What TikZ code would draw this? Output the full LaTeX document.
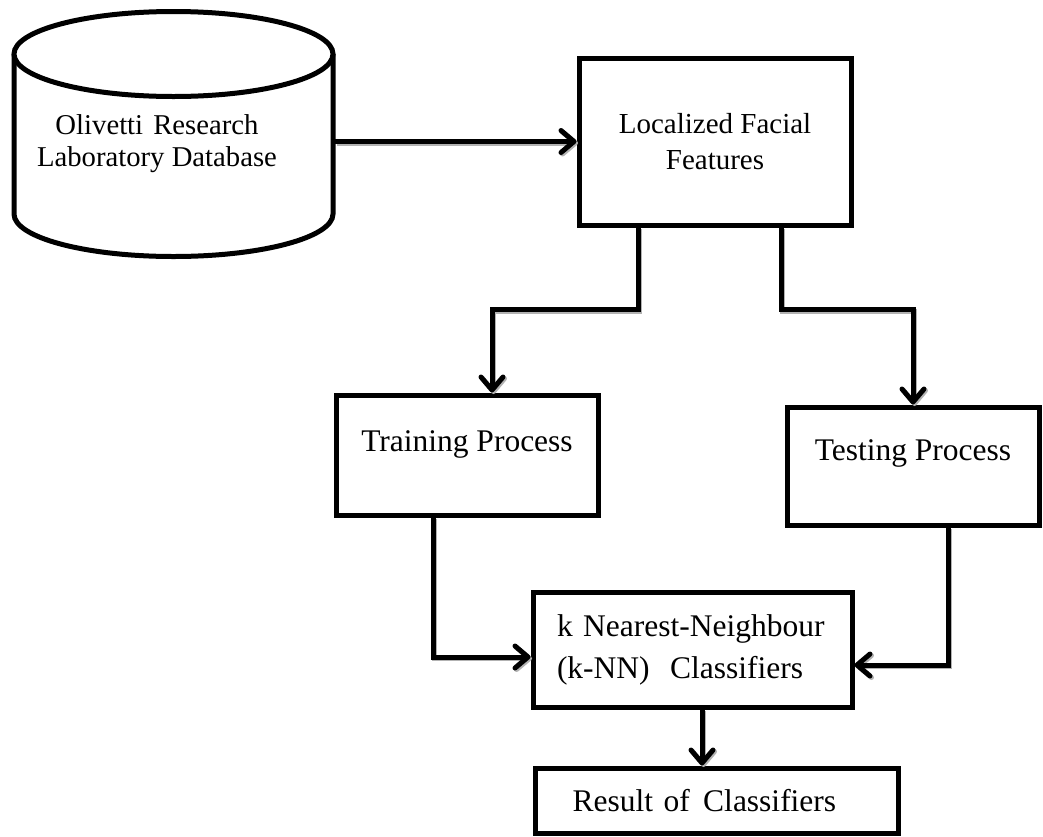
\documentclass[tikz,border=0pt]{standalone}
\usepackage{fontspec}
\setmainfont{Liberation Serif}
\usetikzlibrary{arrows.meta,shadows}

\begin{document}
\begin{tikzpicture}[x=1pt,y=1pt,line width=5pt,>={Straight Barb[length=13pt,width=22pt,round]},
  font=\fontsize{31.5}{36}\selectfont,
  box/.style={draw,rectangle,fill=white,inner sep=0pt,align=center,
    drop shadow={shadow xshift=1.5pt,shadow yshift=-1.5pt,fill=black!35,opacity=1}},
  conn/.style={->,preaction={draw=black!30,transform canvas={xshift=1.5pt,yshift=-1.5pt}}}]
  \useasboundingbox (0,0) rectangle (1043,-836);
  % base de datos (cilindro)
  \draw[fill=white] (14,-54) -- (14,-214) arc[start angle=180,end angle=360,x radius=159.5,y radius=42.5] -- (333,-54);
  \draw[fill=white] (173.5,-54) ellipse[x radius=159.5,y radius=42.5];
  \node[align=center,font=\fontsize{28.7}{32}\selectfont] (db) at (157,-144) {Olivetti\hspace{3pt} Research\\Laboratory Database};
  \coordinate (dbout) at (335,-141.5);
  % cajas
  \node[box,minimum width=272pt,minimum height=167pt,font=\fontsize{29}{36}\selectfont] (feat) at (715,-141.5) {Localized Facial\\Features};
  \node[box,minimum width=262pt,minimum height=120pt,text height=22pt,text depth=30pt] (train) at (467,-455) {Training Process};
  \node[box,minimum width=252pt,minimum height=118pt,text height=22pt,text depth=34pt] (test) at (913,-466) {Testing Process};
  \node[box,minimum width=319pt,minimum height=115pt,text width=271pt,align=left,font=\fontsize{31.5}{42}\selectfont] (knn) at (692.5,-649.5) {k Nearest-Neighbour\\(k-NN)\hspace{10pt} Classifiers};
  \node[box,minimum width=363pt,minimum height=65pt,text width=288pt,align=left] (res) at (716.5,-800.5) {Result of\hspace{3pt} Classifiers};
  % flechas
  \draw[conn] (dbout) -- (feat.west);
  \draw[conn] ([xshift=-77pt]feat.south) -- ++(0,-82) -| ([xshift=25pt]train.north);
  \draw[conn] ([xshift=66pt]feat.south) -- ++(0,-82) -| (test.north);
  \draw[conn] ([xshift=-34pt]train.south) |- ([yshift=-7.5pt]knn.west);
  \draw[conn] ([xshift=35pt]test.south) |- ([yshift=-15.5pt]knn.east);
  \draw[conn] ([xshift=9.5pt]knn.south) -- ([xshift=9.5pt]knn.south |- res.north);
\end{tikzpicture}
\end{document}
